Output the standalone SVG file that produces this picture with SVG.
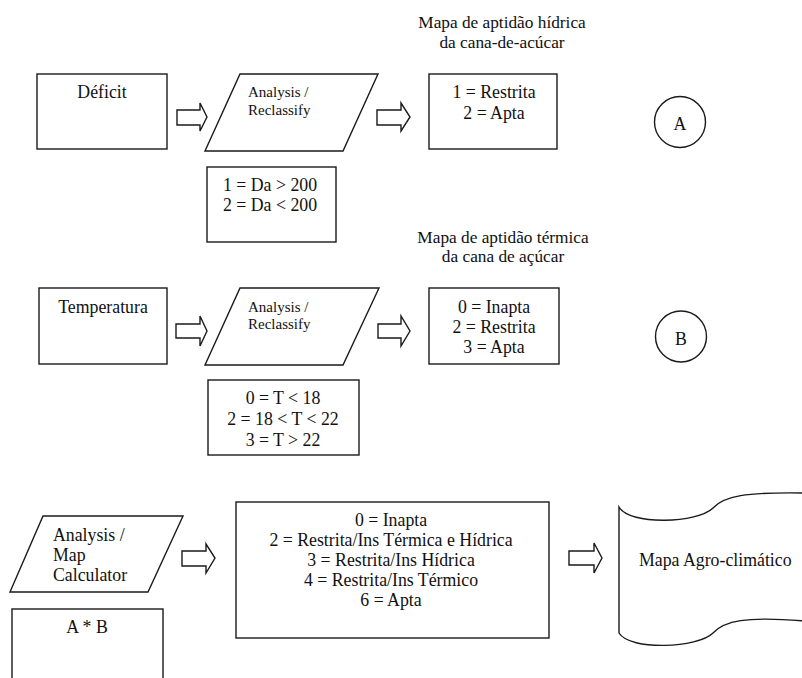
<svg xmlns="http://www.w3.org/2000/svg" width="802" height="678" viewBox="0 0 802 678">
<defs>
<style>
.s{fill:#fff;stroke:#1a1a1a;stroke-width:1.4}
.t{font-size:17.8px;fill:#111}
.m{text-anchor:middle}
.sm{font-size:15px}
.h{font-size:17.3px}
.a{fill:#fff;stroke:#1a1a1a;stroke-width:1.4;stroke-linejoin:miter}
</style>
</defs>
<rect width="802" height="678" fill="#fff"/>
<g font-family="'Liberation Serif', 'Times New Roman', 'DejaVu Serif', serif">

<g id="deficit">
<rect class="s" x="37" y="74" width="130" height="75"/>
<text class="t m" x="102" y="98">Déficit</text>
</g>

<g id="reclass1">
<polygon class="s" points="240,74 378,74 343,151 205,151"/>
<text class="t sm" x="248" y="97">Analysis /</text>
<text class="t sm" x="248" y="115">Reclassify</text>
</g>

<g id="rule1">
<rect class="s" x="207" y="167" width="129" height="75"/>
<text class="t m" x="270" y="191">1 = Da &gt; 200</text>
<text class="t m" x="270" y="211">2 = Da &lt; 200</text>
</g>

<g id="title1">
<text class="t h m" x="502" y="28">Mapa de aptidão hídrica</text>
<text class="t h m" x="502" y="47.5">da cana-de-acúcar</text>
</g>

<g id="result1">
<rect class="s" x="429" y="74" width="128" height="75"/>
<text class="t m" x="494" y="98">1 = Restrita</text>
<text class="t m" x="494" y="119">2 = Apta</text>
</g>

<g id="circleA">
<circle class="s" cx="680" cy="122" r="25.5"/>
<text class="t m" x="680" y="130">A</text>
</g>

<g id="temperatura">
<rect class="s" x="39" y="288" width="128" height="76"/>
<text class="t m" x="103" y="313">Temperatura</text>
</g>

<g id="reclass2">
<polygon class="s" points="240,288 379,288 343,365 205,365"/>
<text class="t sm" x="248" y="312">Analysis /</text>
<text class="t sm" x="248" y="329">Reclassify</text>
</g>

<g id="rule2">
<rect class="s" x="208" y="380" width="151" height="75"/>
<text class="t m" x="283" y="404">0 = T &lt; 18</text>
<text class="t m" x="283" y="425">2 = 18 &lt; T &lt; 22</text>
<text class="t m" x="283" y="446">3 = T &gt; 22</text>
</g>

<g id="title2">
<text class="t h m" x="503" y="242.5">Mapa de aptidão térmica</text>
<text class="t h m" x="503" y="262">da cana de açúcar</text>
</g>

<g id="result2">
<rect class="s" x="429" y="288" width="130" height="76"/>
<text class="t m" x="494" y="313">0 = Inapta</text>
<text class="t m" x="494" y="333">2 = Restrita</text>
<text class="t m" x="494" y="353">3 = Apta</text>
</g>

<g id="circleB">
<circle class="s" cx="681" cy="336.5" r="25.5"/>
<text class="t m" x="681" y="345">B</text>
</g>

<g id="mapcalc">
<polygon class="s" points="43,516 183,516 148,592 10,592"/>
<text class="t" x="53" y="541">Analysis /</text>
<text class="t" x="53" y="561">Map</text>
<text class="t" x="53" y="581">Calculator</text>
</g>

<g id="formula">
<rect class="s" x="12" y="609" width="151" height="80"/>
<text class="t m" x="87" y="633">A * B</text>
</g>

<g id="classes">
<rect class="s" x="236" y="502" width="313" height="136"/>
<text class="t m" x="391" y="526">0 = Inapta</text>
<text class="t m" x="391" y="546">2 = Restrita/Ins Térmica e Hídrica</text>
<text class="t m" x="391" y="566">3 = Restrita/Ins Hídrica</text>
<text class="t m" x="391" y="586">4 = Restrita/Ins Térmico</text>
<text class="t m" x="391" y="606">6 = Apta</text>
</g>

<g id="mapa">
<path class="s" d="M619,507 C630,526 698,523 713,508 C724,496 745,492 805,493 L805,621 C745,616 724,621 713,633 C698,648 630,651 619,633 Z"/>
<text class="t" x="639" y="566">Mapa Agro-climático</text>
</g>

</g>
<g id="connectors">
<polygon class="a" points="177,110 200,110 200,103 207,117 200,131 200,125 177,125"/>
<polygon class="a" points="377,110 401,110 401,103 410,117 401,131 401,125 377,125"/>
<polygon class="a" points="176,324 200,324 200,316 207,331 200,346 200,338 176,338"/>
<polygon class="a" points="378,324 401,324 401,316 410,331 401,346 401,338 378,338"/>
<polygon class="a" points="182,551 206,551 206,544 215,558 206,573 206,566 182,566"/>
<polygon class="a" points="569,551 594,551 594,543 602,558 594,573 594,565 569,565"/>
</g>
</svg>
